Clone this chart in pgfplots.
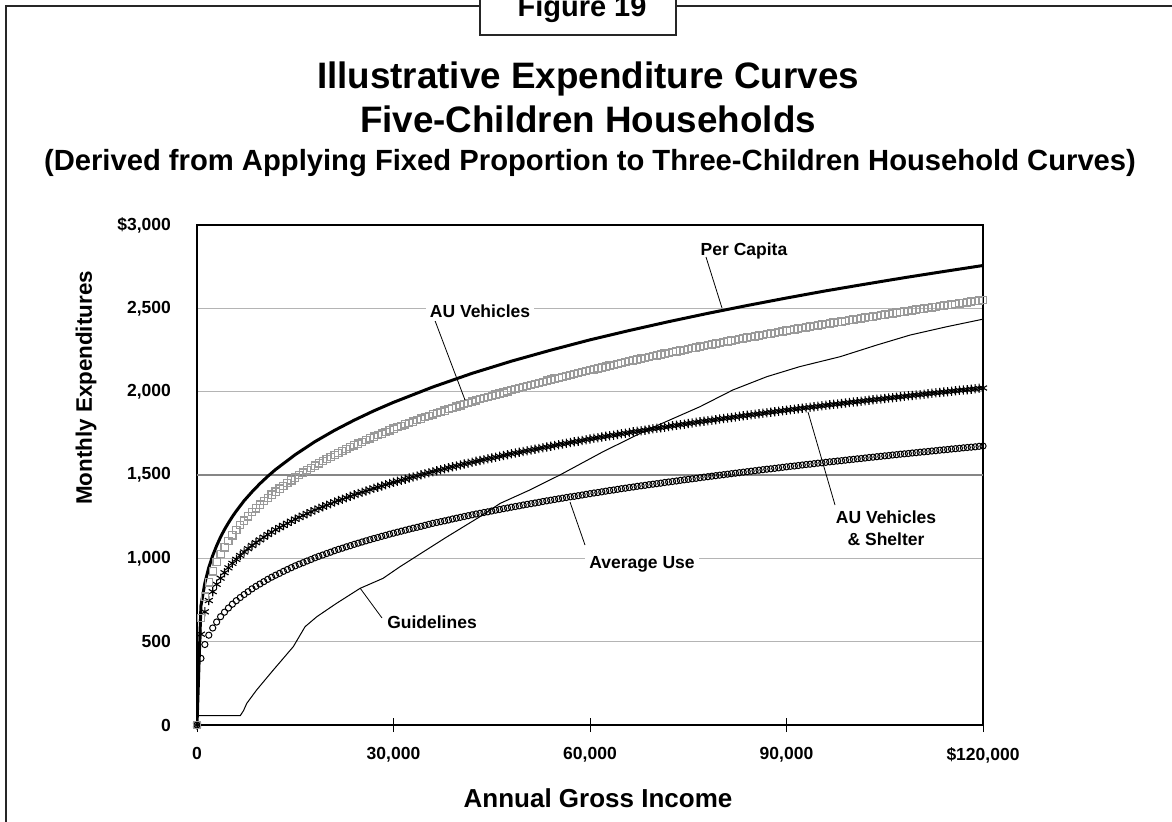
\documentclass[border=0pt]{standalone}
\usepackage{fontspec}
\setmainfont{Liberation Sans}
\usepackage{pgfplots}
\pgfplotsset{compat=1.18}
\usepackage{pgfplotstable}
\definecolor{sqgray}{HTML}{9A9A9A}
\definecolor{gridgray}{HTML}{B4B4B4}
\newcommand{\fs}[1]{\fontsize{#1}{#1}\selectfont}

% x = annual income; avg = Average Use, auvs = AU Vehicles & Shelter, auv = AU Vehicles
\pgfplotstableread{
x avg auvs auv
0 0 0 0
600 400 545 643
1200 483 679 770
1800 539 747 856
2400 582 800 922
3000 618 844 977
3600 650 881 1025
4200 677 914 1066
4800 702 943 1104
5400 725 970 1138
6000 746 994 1170
6600 765 1017 1199
7200 783 1038 1227
7800 800 1058 1252
8400 817 1077 1277
9000 832 1094 1300
9600 846 1111 1322
10200 860 1127 1343
10800 874 1143 1363
11400 887 1157 1382
12000 899 1172 1401
12600 910 1185 1418
13200 922 1197 1435
13800 933 1210 1451
14400 944 1222 1468
15000 955 1235 1485
15600 965 1246 1499
16200 974 1257 1514
16800 984 1268 1528
17400 993 1279 1543
18000 1003 1290 1557
18600 1012 1300 1570
19200 1020 1309 1583
19800 1029 1319 1595
20400 1037 1328 1608
21000 1046 1338 1621
21600 1054 1347 1632
22200 1061 1355 1644
22800 1069 1364 1655
23400 1076 1372 1667
24000 1084 1381 1678
24600 1091 1389 1688
25200 1098 1397 1699
25800 1105 1404 1709
26400 1112 1412 1720
27000 1119 1420 1730
27600 1125 1427 1740
28200 1132 1434 1749
28800 1138 1442 1759
29400 1145 1449 1768
30000 1151 1456 1778
30600 1157 1462 1787
31200 1163 1469 1795
31800 1169 1475 1804
32400 1175 1482 1812
33000 1181 1488 1821
33600 1186 1494 1830
34200 1192 1501 1838
34800 1198 1507 1847
35400 1204 1514 1855
36000 1210 1520 1864
36600 1215 1526 1872
37200 1220 1531 1879
37800 1225 1537 1887
38400 1230 1543 1895
39000 1236 1549 1903
39600 1241 1554 1910
40200 1246 1560 1918
40800 1251 1566 1926
41400 1256 1571 1933
42000 1261 1577 1941
42600 1266 1582 1948
43200 1270 1587 1955
43800 1275 1592 1961
44400 1279 1597 1968
45000 1284 1602 1975
45600 1289 1607 1982
46200 1293 1612 1989
46800 1298 1617 1995
47400 1302 1622 2002
48000 1307 1627 2009
48600 1311 1632 2015
49200 1315 1636 2022
49800 1320 1641 2028
50400 1324 1645 2034
51000 1328 1650 2041
51600 1332 1655 2047
52200 1336 1659 2053
52800 1341 1664 2059
53400 1345 1668 2066
54000 1349 1673 2072
54600 1353 1677 2078
55200 1357 1682 2083
55800 1361 1686 2089
56400 1365 1690 2095
57000 1369 1695 2101
57600 1372 1699 2106
58200 1376 1703 2112
58800 1380 1707 2118
59400 1384 1712 2123
60000 1388 1716 2129
60600 1392 1720 2134
61200 1395 1724 2140
61800 1399 1728 2145
62400 1403 1732 2151
63000 1407 1736 2156
63600 1410 1739 2161
64200 1414 1743 2167
64800 1418 1747 2172
65400 1421 1751 2178
66000 1425 1755 2183
66600 1428 1759 2188
67200 1432 1762 2193
67800 1435 1766 2198
68400 1438 1769 2203
69000 1442 1773 2208
69600 1445 1777 2213
70200 1448 1780 2218
70800 1451 1784 2223
71400 1455 1787 2228
72000 1458 1791 2233
72600 1461 1795 2238
73200 1464 1798 2242
73800 1468 1802 2247
74400 1471 1805 2251
75000 1474 1809 2256
75600 1477 1812 2261
76200 1480 1816 2265
76800 1484 1819 2270
77400 1487 1823 2274
78000 1490 1826 2279
78600 1493 1829 2284
79200 1496 1832 2288
79800 1499 1836 2293
80400 1502 1839 2297
81000 1505 1842 2302
81600 1508 1845 2306
82200 1511 1848 2311
82800 1514 1852 2315
83400 1517 1855 2320
84000 1520 1858 2324
84600 1523 1861 2328
85200 1526 1864 2332
85800 1529 1867 2337
86400 1532 1870 2341
87000 1535 1874 2345
87600 1537 1877 2349
88200 1540 1880 2353
88800 1543 1883 2358
89400 1546 1886 2362
90000 1549 1889 2366
90600 1552 1892 2370
91200 1554 1895 2374
91800 1557 1898 2378
92400 1560 1901 2382
93000 1563 1904 2386
93600 1565 1906 2390
94200 1568 1909 2394
94800 1571 1912 2398
95400 1573 1915 2402
96000 1576 1918 2406
96600 1579 1921 2410
97200 1581 1924 2414
97800 1584 1926 2417
98400 1586 1929 2421
99000 1589 1932 2425
99600 1592 1935 2429
100200 1594 1938 2433
100800 1597 1940 2436
101400 1599 1943 2440
102000 1602 1946 2444
102600 1605 1949 2448
103200 1607 1951 2451
103800 1610 1954 2455
104400 1612 1956 2459
105000 1615 1959 2463
105600 1617 1962 2466
106200 1620 1964 2470
106800 1622 1967 2474
107400 1625 1969 2477
108000 1627 1972 2481
108600 1629 1975 2485
109200 1632 1977 2488
109800 1634 1980 2492
110400 1637 1982 2495
111000 1639 1985 2499
111600 1641 1988 2502
112200 1644 1990 2506
112800 1646 1993 2509
113400 1649 1995 2513
114000 1651 1998 2516
114600 1653 2000 2519
115200 1656 2003 2523
115800 1658 2005 2526
116400 1660 2008 2530
117000 1663 2010 2533
117600 1665 2012 2536
118200 1667 2015 2540
118800 1669 2017 2543
119400 1672 2020 2547
120000 1674 2022 2550
}\curves

\pgfplotstableread{
x y
0 0
600 714
1200 852
1800 945
2400 1017
3000 1076
3600 1128
4200 1173
4800 1213
5400 1250
6000 1284
7200 1346
8400 1399
9600 1448
10800 1492
12000 1533
15000 1622
18000 1700
21000 1768
24000 1829
27000 1885
30000 1936
36000 2028
42000 2110
48000 2183
54000 2249
60000 2311
66000 2367
72000 2420
78000 2470
84000 2517
90000 2562
96000 2605
102000 2645
108000 2684
114000 2721
120000 2757
}\percap

\pgfplotstableread{
x y
0 56
6600 56
7100 86
7600 130
9100 210
11650 330
14700 470
16500 590
18300 650
21300 730
24900 820
28400 880
31000 950
33000 1000
38000 1125
43200 1250
46300 1330
50800 1410
55400 1500
62000 1640
68700 1770
76800 1910
81800 2010
87000 2090
92000 2150
98200 2210
103800 2280
108900 2340
114500 2390
120000 2435
}\guide

\begin{document}
\begin{tikzpicture}
% page = reference pixels (1px = 0.5pt); axis corner (197,725) sits at the origin
\useasboundingbox (-98.5pt,-48pt) rectangle (487.5pt,362.5pt);

\begin{axis}[
  at={(0,0)}, anchor=south west,
  scale only axis, width=393pt, height=250pt,
  xmin=0, xmax=120000, ymin=0, ymax=3000,
  xtick={0,30000,60000,90000,120000},
  xticklabels={0,{30,000},{60,000},{90,000},{\$120,000}},
  ytick={0,500,1000,1500,2000,2500,3000},
  yticklabels={0,500,{1,000},{1,500},{2,000},{2,500},{\$3,000}},
  scaled x ticks=false, scaled y ticks=false,
  tick pos=left,
  ymajorgrids,
  major grid style={gridgray, line width=0.6pt},
  axis line style={black, line width=0.6pt},
  tick align=center,
  major tick length=7pt,
  xtick style={black, line width=0.5pt},
  ytick style={draw=none},
  ticklabel style={font=\bfseries\fs{8.75}},
  yticklabel style={xshift=-6pt},
  xticklabel style={yshift=-4pt},
]
\draw[gray!95, line width=0.6pt] (axis cs:0,1500) -- (axis cs:120000,1500);
\addplot[black, only marks, mark=o, mark size=1.55pt, mark options={line width=0.5pt}] table[x=x,y=avg] {\curves};
\addplot[black, only marks, mark=asterisk, mark size=2.3pt, mark options={line width=0.55pt}] table[x=x,y=auvs] {\curves};
\addplot[sqgray, only marks, mark=square, mark size=1.8pt, mark options={line width=0.6pt}] table[x=x,y=auv] {\curves};
\addplot[black, line width=1.5pt, no marks] table[x=x,y=y] {\percap};
\addplot[black, line width=0.5pt, no marks] table[x=x,y=y] {\guide};
\end{axis}

\begin{scope}[x=0.5pt,y=-0.5pt,shift={(-98.5pt,362.5pt)}]
  % outer frame and tab
  \draw[black!85, line width=0.6pt] (6,840) -- (6,6) -- (1190,6);
  \draw[black!85, line width=0.6pt, fill=white] (480,-20) rectangle (676,35);
  \node[anchor=base, font=\bfseries\fs{14.5}, inner sep=0pt] at (582,17) {Figure 19};
  % titles
  \node[anchor=base, font=\bfseries\fs{18.4}, inner sep=0pt] at (588,88) {Illustrative Expenditure Curves};
  \node[anchor=base, font=\bfseries\fs{18.4}, inner sep=0pt] at (588,132) {Five-Children Households};
  \node[anchor=base, font=\bfseries\fs{14.6}, inner sep=0pt] at (590,170) {(Derived from Applying Fixed Proportion to Three-Children Household Curves)};
  % axis titles
  \node[rotate=90, font=\bfseries\fs{11.2}, inner sep=0pt] at (86,388) {Monthly Expenditures};
  \node[anchor=base, font=\bfseries\fs{13}, inner sep=0pt] at (598,807) {Annual Gross Income};
  % curve labels with leaders
  \draw[black, line width=0.4pt] (706,257) -- (722,308);
  \node[anchor=base, font=\bfseries\fs{8.75}] at (744,255) {Per Capita};
  \draw[black, line width=0.4pt] (434,318) -- (465,400);
  \node[anchor=base, font=\bfseries\fs{8.75}, fill=white, inner sep=2pt] at (480,317) {AU Vehicles};
  \draw[black, line width=0.4pt] (808,412) -- (835,505);
  \node[anchor=base, font=\bfseries\fs{8.75}] at (886,523) {AU Vehicles};
  \node[anchor=base, font=\bfseries\fs{8.75}] at (886,545) {\& Shelter};
  \draw[black, line width=0.4pt] (570,502) -- (585,545);
  \node[anchor=base, font=\bfseries\fs{8.75}, fill=white, inner sep=2pt] at (642,568) {Average Use};
  \draw[black, line width=0.4pt] (360,588) -- (382,618);
  \node[anchor=base, font=\bfseries\fs{8.75}] at (432,628) {Guidelines};
\end{scope}
\end{tikzpicture}
\end{document}
